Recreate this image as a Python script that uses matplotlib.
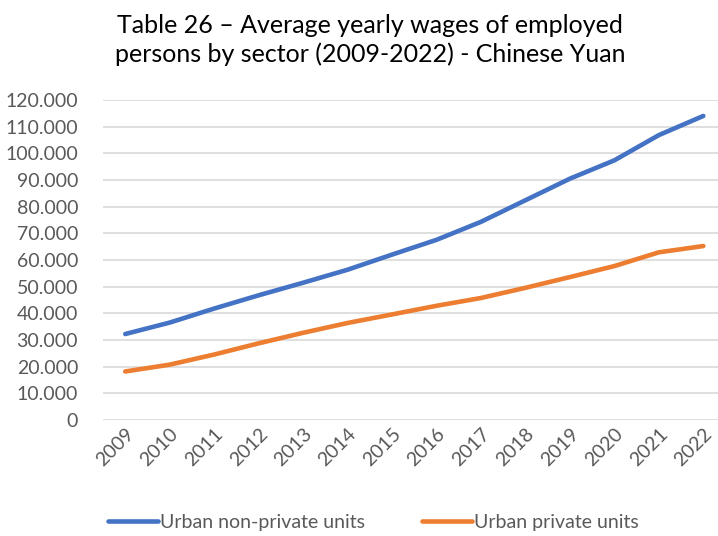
import matplotlib
matplotlib.use("Agg")
import matplotlib.pyplot as plt
from matplotlib.ticker import FuncFormatter

years = ["2009", "2010", "2011", "2012", "2013", "2014", "2015",
         "2016", "2017", "2018", "2019", "2020", "2021", "2022"]
non_private = [32244, 36539, 41799, 46769, 51483, 56360, 62029,
               67569, 74318, 82413, 90501, 97379, 106837, 114029]
private = [18199, 20759, 24556, 28752, 32706, 36390, 39589,
           42833, 45761, 49575, 53604, 57727, 62884, 65237]

plt.rcParams['font.family'] = ['Lato', 'DejaVu Sans']

fig = plt.figure(figsize=(7.18, 5.36), dpi=100)
ax = fig.add_axes([0.1435, 0.2164, 0.867, 0.597])

x = range(len(years))
ax.plot(x, non_private, color='#4472C4', linewidth=3.3, solid_capstyle='round',
        label='Urban non-private units')
ax.plot(x, private, color='#ED7D31', linewidth=3.3, solid_capstyle='round',
        label='Urban private units')

ax.set_xlim(-0.5, len(years) - 0.5)
ax.set_ylim(0, 120000)
ax.set_yticks(range(0, 120001, 10000))
ax.yaxis.set_major_formatter(FuncFormatter(
    lambda v, p: '0' if v == 0 else '{:,.0f}'.format(v).replace(',', '.')))
ax.set_xticks(list(x))
ax.set_xticklabels(years, rotation=45, ha='right', rotation_mode='anchor')

ax.grid(axis='y', color='#D9D9D9', linewidth=1.2)
ax.set_axisbelow(True)
for s in ax.spines.values():
    s.set_visible(False)
ax.tick_params(length=0, colors='#595959', labelsize=14)
ax.tick_params(axis='y', pad=18)
ax.tick_params(axis='x', pad=4)

fig.text(0.515, 0.925, 'Table 26 – Average yearly wages of employed\npersons by sector (2009-2022) - Chinese Yuan',
         ha='center', va='center', fontsize=18, color='#000000', linespacing=1.25)

leg = fig.legend(loc='center', bbox_to_anchor=(0.52, 0.025), ncol=2, frameon=False,
                 fontsize=14, handlelength=2.6, handletextpad=0.1, columnspacing=2.9)
for t in leg.get_texts():
    t.set_color('#595959')

plt.savefig('out.png')
